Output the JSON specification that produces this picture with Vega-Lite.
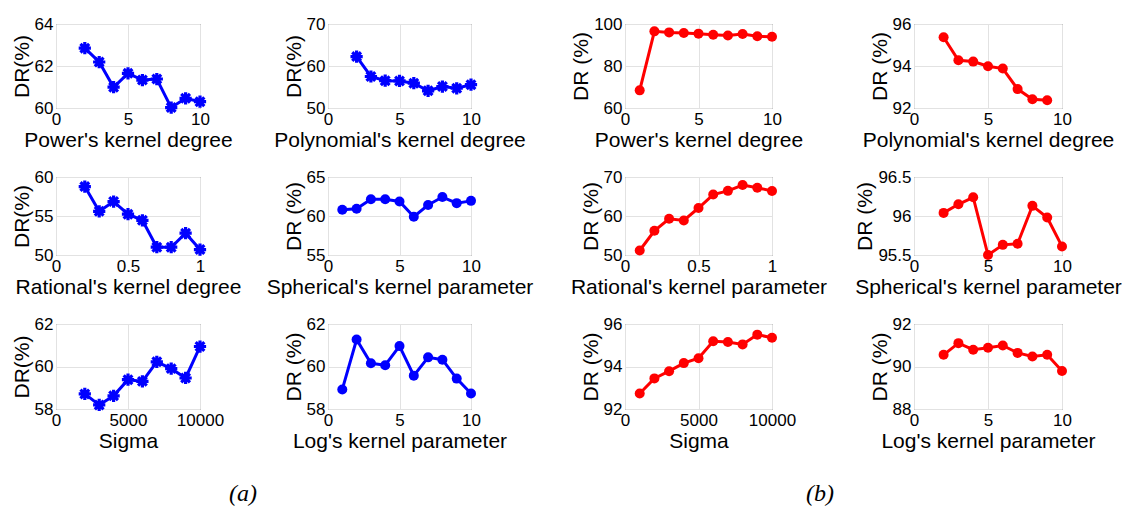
{
  "$schema": "https://vega.github.io/schema/vega-lite/v6.json",
  "background": "white",
  "padding": {"left": 10, "top": 14, "right": 0, "bottom": 0},
  "bounds": "flush",
  "align": "each",
  "columns": 7,
  "spacing": {"row": 69, "column": 0},
  "datasets": {
    "p1": [{"x":2,"y":62.85},{"x":3,"y":62.19},{"x":4,"y":60.99},{"x":5,"y":61.65},{"x":6,"y":61.33},{"x":7,"y":61.38},{"x":8,"y":60.02},{"x":9,"y":60.46},{"x":10,"y":60.3}],
    "p2": [{"x":2,"y":62.24},{"x":3,"y":57.5},{"x":4,"y":56.5},{"x":5,"y":56.45},{"x":6,"y":55.9},{"x":7,"y":54.1},{"x":8,"y":55.1},{"x":9,"y":54.7},{"x":10,"y":55.55}],
    "p3": [{"x":1,"y":68.4},{"x":2,"y":96.5},{"x":3,"y":96.0},{"x":4,"y":95.7},{"x":5,"y":95.4},{"x":6,"y":94.9},{"x":7,"y":94.5},{"x":8,"y":95.2},{"x":9,"y":94.2},{"x":10,"y":93.9}],
    "p4": [{"x":2,"y":95.37},{"x":3,"y":94.27},{"x":4,"y":94.21},{"x":5,"y":93.99},{"x":6,"y":93.88},{"x":7,"y":92.9},{"x":8,"y":92.42},{"x":9,"y":92.37}],
    "p5": [{"x":0.2,"y":58.77},{"x":0.3,"y":55.6},{"x":0.4,"y":56.85},{"x":0.5,"y":55.23},{"x":0.6,"y":54.45},{"x":0.7,"y":51.0},{"x":0.8,"y":51.0},{"x":0.9,"y":52.8},{"x":1.0,"y":50.7}],
    "p6": [{"x":1,"y":60.8},{"x":2,"y":60.92},{"x":3,"y":62.14},{"x":4,"y":62.14},{"x":5,"y":61.86},{"x":6,"y":59.9},{"x":7,"y":61.41},{"x":8,"y":62.43},{"x":9,"y":61.65},{"x":10,"y":61.94}],
    "p7": [{"x":0.1,"y":51.15},{"x":0.2,"y":56.2},{"x":0.3,"y":59.3},{"x":0.4,"y":58.85},{"x":0.5,"y":62.05},{"x":0.6,"y":65.5},{"x":0.7,"y":66.45},{"x":0.8,"y":67.95},{"x":0.9,"y":67.25},{"x":1.0,"y":66.4}],
    "p8": [{"x":2,"y":96.04},{"x":3,"y":96.15},{"x":4,"y":96.24},{"x":5,"y":95.5},{"x":6,"y":95.63},{"x":7,"y":95.645},{"x":8,"y":96.13},{"x":9,"y":95.98},{"x":10,"y":95.61}],
    "p9": [{"x":2000,"y":58.71},{"x":3000,"y":58.19},{"x":4000,"y":58.62},{"x":5000,"y":59.38},{"x":6000,"y":59.3},{"x":7000,"y":60.22},{"x":8000,"y":59.9},{"x":9000,"y":59.46},{"x":10000,"y":60.94}],
    "p10": [{"x":1,"y":58.92},{"x":2,"y":61.27},{"x":3,"y":60.15},{"x":4,"y":60.06},{"x":5,"y":60.96},{"x":6,"y":59.57},{"x":7,"y":60.43},{"x":8,"y":60.32},{"x":9,"y":59.43},{"x":10,"y":58.73}],
    "p11": [{"x":1000,"y":92.73},{"x":2000,"y":93.44},{"x":3000,"y":93.78},{"x":4000,"y":94.16},{"x":5000,"y":94.39},{"x":6000,"y":95.19},{"x":7000,"y":95.15},{"x":8000,"y":95.04},{"x":9000,"y":95.5},{"x":10000,"y":95.35}],
    "p12": [{"x":2,"y":90.55},{"x":3,"y":91.1},{"x":4,"y":90.79},{"x":5,"y":90.88},{"x":6,"y":90.99},{"x":7,"y":90.64},{"x":8,"y":90.47},{"x":9,"y":90.55},{"x":10,"y":89.79}],
    "labA": [{"label":"(a)"}],
    "labB": [{"label":"(b)"}]
  },
  "concat": [
    {"width":144,"height":84,"data":{"name":"p1"},
     "encoding":{"x":{"field":"x","type":"quantitative","scale":{"domain":[0,10],"nice":false,"zero":false},"axis":{"values":[0,5,10],"title":"Power's kernel degree"}},
                 "y":{"field":"y","type":"quantitative","scale":{"domain":[60,64],"nice":false,"zero":false},"axis":{"values":[60,62,64],"title":"DR(%)"}}},
     "layer":[{"mark":{"type":"line","color":"#0000ff","strokeWidth":3}},
              {"mark":{"type":"point","shape":"M-1,0L1,0M0,-1L0,1M-0.71,-0.71L0.71,0.71M-0.71,0.71L0.71,-0.71","filled":false,"color":"#0000ff","strokeWidth":3.2,"size":150,"opacity":1}}]},
    {"width":128,"height":1,"data":{"values":[]},"mark":{"type":"text"},"encoding":{},"view":{"stroke":null}},
    {"width":143,"height":84,"data":{"name":"p2"},
     "encoding":{"x":{"field":"x","type":"quantitative","scale":{"domain":[0,10],"nice":false,"zero":false},"axis":{"values":[0,5,10],"title":"Polynomial's kernel degree"}},
                 "y":{"field":"y","type":"quantitative","scale":{"domain":[50,70],"nice":false,"zero":false},"axis":{"values":[50,60,70],"title":"DR(%)"}}},
     "layer":[{"mark":{"type":"line","color":"#0000ff","strokeWidth":3}},
              {"mark":{"type":"point","shape":"M-1,0L1,0M0,-1L0,1M-0.71,-0.71L0.71,0.71M-0.71,0.71L0.71,-0.71","filled":false,"color":"#0000ff","strokeWidth":3.2,"size":150,"opacity":1}}]},
    {"width":154,"height":1,"data":{"values":[]},"mark":{"type":"text"},"encoding":{},"view":{"stroke":null}},
    {"width":147,"height":84,"data":{"name":"p3"},
     "encoding":{"x":{"field":"x","type":"quantitative","scale":{"domain":[0,10],"nice":false,"zero":false},"axis":{"values":[0,5,10],"title":"Power's kernel degree"}},
                 "y":{"field":"y","type":"quantitative","scale":{"domain":[60,100],"nice":false,"zero":false},"axis":{"values":[60,80,100],"title":"DR (%)"}}},
     "layer":[{"mark":{"type":"line","color":"#ff0000","strokeWidth":3}},
              {"mark":{"type":"circle","color":"#ff0000","size":100,"opacity":1}}]},
    {"width":142,"height":1,"data":{"values":[]},"mark":{"type":"text"},"encoding":{},"view":{"stroke":null}},
    {"width":148,"height":84,"data":{"name":"p4"},
     "encoding":{"x":{"field":"x","type":"quantitative","scale":{"domain":[0,10],"nice":false,"zero":false},"axis":{"values":[0,5,10],"title":"Polynomial's kernel degree"}},
                 "y":{"field":"y","type":"quantitative","scale":{"domain":[92,96],"nice":false,"zero":false},"axis":{"values":[92,94,96],"title":"DR (%)"}}},
     "layer":[{"mark":{"type":"line","color":"#ff0000","strokeWidth":3}},
              {"mark":{"type":"circle","color":"#ff0000","size":100,"opacity":1}}]},

    {"width":144,"height":78,"data":{"name":"p5"},
     "encoding":{"x":{"field":"x","type":"quantitative","scale":{"domain":[0,1],"nice":false,"zero":false},"axis":{"values":[0,0.5,1],"title":"Rational's kernel degree"}},
                 "y":{"field":"y","type":"quantitative","scale":{"domain":[50,60],"nice":false,"zero":false},"axis":{"values":[50,55,60],"title":"DR(%)"}}},
     "layer":[{"mark":{"type":"line","color":"#0000ff","strokeWidth":3}},
              {"mark":{"type":"point","shape":"M-1,0L1,0M0,-1L0,1M-0.71,-0.71L0.71,0.71M-0.71,0.71L0.71,-0.71","filled":false,"color":"#0000ff","strokeWidth":3.2,"size":150,"opacity":1}}]},
    {"width":128,"height":1,"data":{"values":[]},"mark":{"type":"text"},"encoding":{},"view":{"stroke":null}},
    {"width":143,"height":78,"data":{"name":"p6"},
     "encoding":{"x":{"field":"x","type":"quantitative","scale":{"domain":[0,10],"nice":false,"zero":false},"axis":{"values":[0,5,10],"title":"Spherical's kernel parameter"}},
                 "y":{"field":"y","type":"quantitative","scale":{"domain":[55,65],"nice":false,"zero":false},"axis":{"values":[55,60,65],"title":"DR (%)"}}},
     "layer":[{"mark":{"type":"line","color":"#0000ff","strokeWidth":3}},
              {"mark":{"type":"circle","color":"#0000ff","size":100,"opacity":1}}]},
    {"width":154,"height":1,"data":{"values":[]},"mark":{"type":"text"},"encoding":{},"view":{"stroke":null}},
    {"width":147,"height":78,"data":{"name":"p7"},
     "encoding":{"x":{"field":"x","type":"quantitative","scale":{"domain":[0,1],"nice":false,"zero":false},"axis":{"values":[0,0.5,1],"title":"Rational's kernel parameter"}},
                 "y":{"field":"y","type":"quantitative","scale":{"domain":[50,70],"nice":false,"zero":false},"axis":{"values":[50,60,70],"title":"DR (%)"}}},
     "layer":[{"mark":{"type":"line","color":"#ff0000","strokeWidth":3}},
              {"mark":{"type":"circle","color":"#ff0000","size":100,"opacity":1}}]},
    {"width":142,"height":1,"data":{"values":[]},"mark":{"type":"text"},"encoding":{},"view":{"stroke":null}},
    {"width":148,"height":78,"data":{"name":"p8"},
     "encoding":{"x":{"field":"x","type":"quantitative","scale":{"domain":[0,10],"nice":false,"zero":false},"axis":{"values":[0,5,10],"title":"Spherical's kernel parameter"}},
                 "y":{"field":"y","type":"quantitative","scale":{"domain":[95.5,96.5],"nice":false,"zero":false},"axis":{"values":[95.5,96,96.5],"title":"DR (%)"}}},
     "layer":[{"mark":{"type":"line","color":"#ff0000","strokeWidth":3}},
              {"mark":{"type":"circle","color":"#ff0000","size":100,"opacity":1}}]},

    {"width":144,"height":85,"data":{"name":"p9"},
     "encoding":{"x":{"field":"x","type":"quantitative","scale":{"domain":[0,10000],"nice":false,"zero":false},"axis":{"values":[0,5000,10000],"title":"Sigma"}},
                 "y":{"field":"y","type":"quantitative","scale":{"domain":[58,62],"nice":false,"zero":false},"axis":{"values":[58,60,62],"title":"DR(%)"}}},
     "layer":[{"mark":{"type":"line","color":"#0000ff","strokeWidth":3}},
              {"mark":{"type":"point","shape":"M-1,0L1,0M0,-1L0,1M-0.71,-0.71L0.71,0.71M-0.71,0.71L0.71,-0.71","filled":false,"color":"#0000ff","strokeWidth":3.2,"size":150,"opacity":1}}]},
    {"width":128,"height":1,"data":{"values":[]},"mark":{"type":"text"},"encoding":{},"view":{"stroke":null}},
    {"width":143,"height":85,"data":{"name":"p10"},
     "encoding":{"x":{"field":"x","type":"quantitative","scale":{"domain":[0,10],"nice":false,"zero":false},"axis":{"values":[0,5,10],"title":"Log's kernel parameter"}},
                 "y":{"field":"y","type":"quantitative","scale":{"domain":[58,62],"nice":false,"zero":false},"axis":{"values":[58,60,62],"title":"DR (%)"}}},
     "layer":[{"mark":{"type":"line","color":"#0000ff","strokeWidth":3}},
              {"mark":{"type":"circle","color":"#0000ff","size":100,"opacity":1}}]},
    {"width":154,"height":1,"data":{"values":[]},"mark":{"type":"text"},"encoding":{},"view":{"stroke":null}},
    {"width":147,"height":85,"data":{"name":"p11"},
     "encoding":{"x":{"field":"x","type":"quantitative","scale":{"domain":[0,10000],"nice":false,"zero":false},"axis":{"values":[0,5000,10000],"title":"Sigma"}},
                 "y":{"field":"y","type":"quantitative","scale":{"domain":[92,96],"nice":false,"zero":false},"axis":{"values":[92,94,96],"title":"DR (%)"}}},
     "layer":[{"mark":{"type":"line","color":"#ff0000","strokeWidth":3}},
              {"mark":{"type":"circle","color":"#ff0000","size":100,"opacity":1}}]},
    {"width":142,"height":1,"data":{"values":[]},"mark":{"type":"text"},"encoding":{},"view":{"stroke":null}},
    {"width":148,"height":85,"data":{"name":"p12"},
     "encoding":{"x":{"field":"x","type":"quantitative","scale":{"domain":[0,10],"nice":false,"zero":false},"axis":{"values":[0,5,10],"title":"Log's kernel parameter"}},
                 "y":{"field":"y","type":"quantitative","scale":{"domain":[88,92],"nice":false,"zero":false},"axis":{"values":[88,90,92],"title":"DR (%)"}}},
     "layer":[{"mark":{"type":"line","color":"#ff0000","strokeWidth":3}},
              {"mark":{"type":"circle","color":"#ff0000","size":100,"opacity":1}}]},

    {"width":1,"height":32,"data":{"values":[]},"mark":{"type":"text"},"encoding":{},"view":{"stroke":null}},
    {"width":128,"height":32,"data":{"name":"labA"},"mark":{"type":"text","font":"Liberation Serif","fontStyle":"italic","fontSize":24,"dx":-21,"color":"black"},"encoding":{"text":{"field":"label"}},"view":{"stroke":null}},
    {"width":1,"height":32,"data":{"values":[]},"mark":{"type":"text"},"encoding":{},"view":{"stroke":null}},
    {"width":1,"height":32,"data":{"values":[]},"mark":{"type":"text"},"encoding":{},"view":{"stroke":null}},
    {"width":1,"height":32,"data":{"values":[]},"mark":{"type":"text"},"encoding":{},"view":{"stroke":null}},
    {"width":142,"height":32,"data":{"name":"labB"},"mark":{"type":"text","font":"Liberation Serif","fontStyle":"italic","fontSize":24,"dx":-23,"color":"black"},"encoding":{"text":{"field":"label"}},"view":{"stroke":null}}
  ],
  "config": {
    "view": {"stroke": "#555555", "strokeWidth": 1},
    "axis": {
      "labelFont": "Liberation Sans", "labelFontSize": 17, "labelColor": "black",
      "titleFont": "Liberation Sans", "titleFontSize": 21, "titleFontWeight": "normal", "titleColor": "black",
      "domain": false, "ticks": false, "labelPadding": 3, "titlePadding": 2,
      "grid": true, "gridColor": "#e2e2e2", "gridWidth": 1,
      "labelFlush": false, "labelOverlap": false, "labelBound": false, "format": ".6~g"
    }
  }
}
